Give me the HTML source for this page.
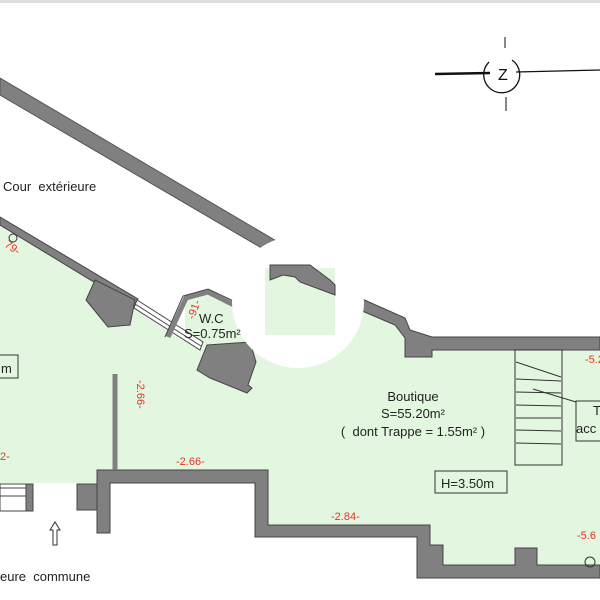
<!DOCTYPE html>
<html><head><meta charset="utf-8"><style>
html,body{margin:0;padding:0;background:#fff;}
svg{display:block;font-family:"Liberation Sans",sans-serif;}
.r{fill:#e53322;font-size:11px;}
.t{fill:#222;font-size:13px;}
</style></head><body>
<svg width="600" height="600" viewBox="0 0 600 600">
<rect x="0" y="0" width="600" height="3" fill="#ddd"/>
<polygon fill="#e3f7e0" points="0,222 185,342 185,300 205,292 240,310 265,320 265,265 335,265 335,295 365,305 410,330 410,350 600,350 600,565 537,565 537,548 515,548 515,565 443,565 443,545 430,545 430,525 268,525 268,470 100,470 100,483 0,483"/>
<polygon fill="#808080" stroke="#555" stroke-width="1" points="0,78 283,245 277,257 0,95"/>
<polyline fill="none" stroke="#444" stroke-width="1.2" points="262,253 258,268 252,265 255,270"/>
<polygon fill="#808080" stroke="#444" stroke-width="1" points="0,217 138,299 135,307 0,225"/>
<polygon fill="#808080" stroke="#444" points="95,280 135,300 130,325 108,327 86,300"/>
<polygon fill="#fff" stroke="#444" points="137,300 203,342 200,350 134,308"/>
<line x1="135" y1="304" x2="201" y2="346" stroke="#444"/>
<polyline fill="none" stroke="#808080" stroke-width="5" points="168,337 186,298 208,292 240,308"/>
<polyline fill="none" stroke="#444" stroke-width="1" points="165,337 183,296 208,289 242,305"/>
<polygon fill="#808080" stroke="#444" points="207,345 250,342 256,362 248,385 252,388 247,393 210,378 197,370"/>
<polygon fill="#808080" stroke="#444" points="360,298 405,318 410,330 432,337 600,337 600,350 432,350 432,357 405,357 405,338 395,325 355,308"/>
<circle cx="298" cy="302" r="66" fill="#fff"/>
<rect x="265" y="268" width="70" height="67" fill="#e3f7e0"/>
<polygon fill="#808080" stroke="#444" points="270,265 310,265 330,280 335,285 335,295 300,282 295,277 283,275 270,280"/>
<rect x="0" y="484" width="33" height="27" fill="#fff" stroke="#444"/>
<rect x="0" y="488" width="26" height="8" fill="#fff" stroke="#444"/>
<rect x="26" y="484" width="7" height="27" fill="#808080" stroke="#444"/>
<rect x="77" y="484" width="21" height="26" fill="#808080" stroke="#444"/>
<polygon fill="#808080" stroke="#444" points="97,470 268,470 268,525 430,525 430,545 443,545 443,565 515,565 515,548 537,548 537,565 600,565 600,578 417,578 417,537 255,537 255,483 110,483 110,533 97,533"/>
<line x1="115" y1="374" x2="115" y2="470" stroke="#808080" stroke-width="5"/>
<g fill="none" stroke="#333" stroke-width="1">
<rect x="515" y="350" width="47" height="115"/>
<line x1="516" y1="362" x2="561" y2="377"/>
<line x1="516" y1="379" x2="561" y2="381"/>
<line x1="516" y1="392" x2="561" y2="393"/>
<line x1="516" y1="405" x2="561" y2="406"/>
<line x1="516" y1="418" x2="561" y2="418"/>
<line x1="516" y1="430" x2="561" y2="431"/>
<line x1="516" y1="443" x2="561" y2="444"/>
<line x1="533" y1="389" x2="576" y2="402"/>
<rect x="576" y="401" width="30" height="40"/>
<rect x="435" y="471" width="72" height="22"/>
<rect x="-2" y="355" width="20" height="23"/>
<circle cx="590" cy="562" r="5"/>
<circle cx="13" cy="238" r="4"/>
<polygon points="50,530 55,522 60,530 57,530 57,545 53,545 53,530"/>
</g>
<g stroke="#111" fill="none">
<line x1="435" y1="74" x2="490" y2="73" stroke-width="2.5"/>
<line x1="516" y1="72" x2="600" y2="70" stroke-width="1.2"/>
<path d="M489,62 A18,18 0 1,0 512,60" stroke-width="1.3"/>
<line x1="505" y1="37" x2="505" y2="48"/>
<line x1="506" y1="97" x2="506" y2="111"/>
</g>
<text x="498" y="80" font-size="16" fill="#111">Z</text>
<text x="3" y="191" class="t" xml:space="preserve">Cour  extérieure</text>
<text class="r" transform="translate(4,246) rotate(35)">79-</text>
<text class="r" transform="translate(194,320) rotate(-70)">-91-</text>
<text x="199" y="323" class="t">W.C</text>
<text x="184" y="338" class="t">S=0.75m²</text>
<text x="1" y="373" class="t">m</text>
<text class="r" transform="translate(137,380) rotate(90)">-2.66-</text>
<text x="176" y="465" class="r">-2.66-</text>
<text x="0" y="460" class="r">2-</text>
<text x="331" y="520" class="r">-2.84-</text>
<text x="413" y="401" class="t" font-size="14" text-anchor="middle">Boutique</text>
<text x="413" y="418" class="t" font-size="14" text-anchor="middle">S=55.20m²</text>
<text x="413" y="436" class="t" font-size="14" text-anchor="middle" xml:space="preserve">(  dont Trappe = 1.55m² )</text>
<text x="441" y="488" class="t" font-size="14">H=3.50m</text>
<text x="593" y="415" class="t">T</text>
<text x="576" y="433" class="t">acc</text>
<text x="585" y="363" class="r">-5.2</text>
<text x="577" y="539" class="r">-5.6</text>
<text x="0" y="581" class="t" xml:space="preserve">eure  commune</text>
</svg>
</body></html>
